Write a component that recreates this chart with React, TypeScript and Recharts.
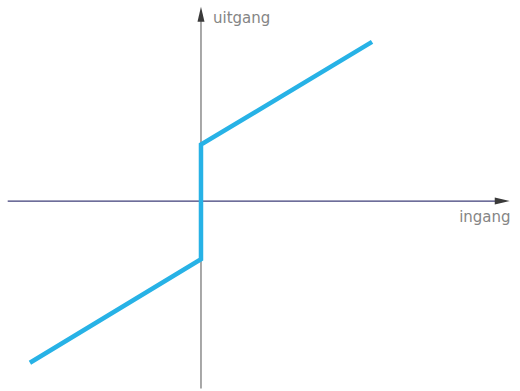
import React from 'react';
import { LineChart, Line, XAxis, YAxis, ReferenceLine, ReferenceDot } from 'recharts';

// transfer characteristic: input (ingang) -> output (uitgang)
const ingang = [-10, 0, 0, 10];
const uitgang = [-9.45, -3.4, 3.3, 9.3];

const curve = ingang.map((x, i) => ({ x, y: uitgang[i] }));

const xDomain = [-11.75, 18.65];
const yDomain = [-11.1, 11.75];

const xAxisEnds = [-11.3, 18.05];
const yAxisEnds = [-10.95, 11.35];

const Arrow = ({ cx, cy, dir, color }: any) => {
  const pts =
    dir === 'up'
      ? `${cx},${cy} ${cx - 3.5},${cy + 15} ${cx + 3.5},${cy + 15}`
      : `${cx},${cy} ${cx - 15},${cy - 3.5} ${cx - 15},${cy + 3.5}`;
  return <polygon points={pts} fill={color} />;
};

const AxisText = ({ cx, cy, text, anchor }: any) => (
  <text
    x={cx}
    y={cy}
    textAnchor={anchor}
    fontFamily="'DejaVu Sans', sans-serif"
    fontSize={15}
    fill="#858585"
  >
    {text}
  </text>
);

const TransferCurve = () => {
  return (
    <div style={{ position: 'absolute', left: 0, top: 0, width: 520, height: 391, background: '#fff' }}>
      <LineChart width={520} height={391} data={curve} margin={{ top: 0, right: 0, bottom: 0, left: 0 }}>
        <XAxis type="number" dataKey="x" domain={xDomain} hide allowDataOverflow />
        <YAxis type="number" domain={yDomain} hide allowDataOverflow />
        <ReferenceLine
          segment={[{ x: xAxisEnds[0], y: 0 }, { x: xAxisEnds[1] - 0.5, y: 0 }]}
          stroke="#3e3e78"
          strokeWidth={1.2}
        />
        <ReferenceLine
          segment={[{ x: 0, y: yAxisEnds[0] }, { x: 0, y: yAxisEnds[1] - 0.5 }]}
          stroke="#6e6e6e"
          strokeWidth={1.2}
        />
        <ReferenceDot x={xAxisEnds[1]} y={0} r={0} shape={(p: any) => <Arrow {...p} dir="right" color="#3a3a3a" />} />
        <ReferenceDot x={0} y={yAxisEnds[1]} r={0} shape={(p: any) => <Arrow {...p} dir="up" color="#3a3a3a" />} />
        <ReferenceDot x={0.7} y={10.4} r={0} shape={(p: any) => <AxisText {...p} text="uitgang" anchor="start" />} />
        <ReferenceDot x={18.1} y={-1.2} r={0} shape={(p: any) => <AxisText {...p} text="ingang" anchor="end" />} />
        <Line
          type="linear"
          dataKey="y"
          stroke="#27b2e6"
          strokeWidth={4.5}
          strokeDasharray="2000 0"
          dot={false}
          activeDot={false}
          strokeLinejoin="miter"
          isAnimationActive={false}
        />
      </LineChart>
    </div>
  );
};

export default TransferCurve;
